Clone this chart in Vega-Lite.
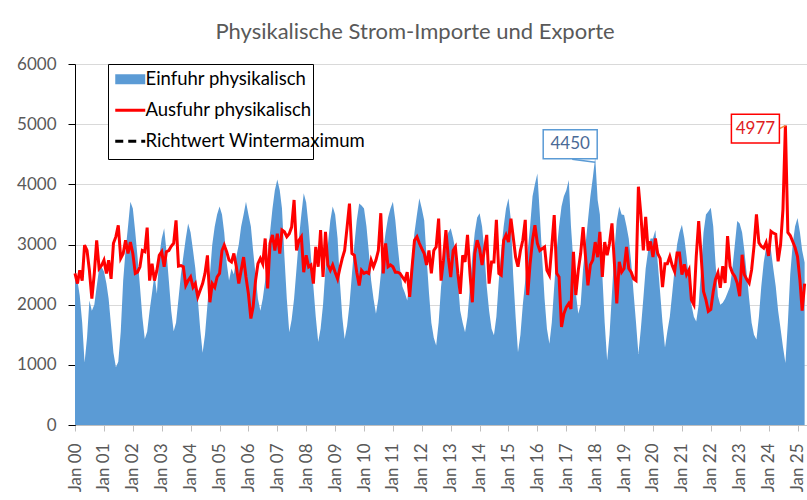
{
  "$schema": "https://vega.github.io/schema/vega-lite/v6.json",
  "autosize": {"type": "none"},
  "width": 732,
  "height": 361,
  "padding": {"left": 75, "top": 64, "right": 0, "bottom": 75},
  "background": "white",
  "config": {"font": "Lato", "view": {"stroke": null}},
  "title": {"text": "Physikalische Strom-Importe und Exporte", "fontSize": 22, "fontWeight": "normal", "color": "#595959", "anchor": "middle", "frame": "group", "dx": -26, "offset": 11},
  "datasets": {
    "strom": [
      {"monat":"2000-01","einfuhr":2540,"ausfuhr":2520},{"monat":"2000-02","einfuhr":2400,"ausfuhr":2350},{"monat":"2000-03","einfuhr":2150,"ausfuhr":2570},{"monat":"2000-04","einfuhr":1700,"ausfuhr":2400},{"monat":"2000-05","einfuhr":1040,"ausfuhr":2990},{"monat":"2000-06","einfuhr":1450,"ausfuhr":2900},{"monat":"2000-07","einfuhr":2070,"ausfuhr":2570},{"monat":"2000-08","einfuhr":1900,"ausfuhr":2100},{"monat":"2000-09","einfuhr":2000,"ausfuhr":2520},{"monat":"2000-10","einfuhr":2300,"ausfuhr":3070},{"monat":"2000-11","einfuhr":2600,"ausfuhr":2600},{"monat":"2000-12","einfuhr":2630,"ausfuhr":2650},
      {"monat":"2001-01","einfuhr":2550,"ausfuhr":2740},{"monat":"2001-02","einfuhr":2350,"ausfuhr":2520},{"monat":"2001-03","einfuhr":2100,"ausfuhr":2740},{"monat":"2001-04","einfuhr":1650,"ausfuhr":2430},{"monat":"2001-05","einfuhr":1200,"ausfuhr":3020},{"monat":"2001-06","einfuhr":960,"ausfuhr":3130},{"monat":"2001-07","einfuhr":1050,"ausfuhr":3320},{"monat":"2001-08","einfuhr":1550,"ausfuhr":2770},{"monat":"2001-09","einfuhr":2400,"ausfuhr":2850},{"monat":"2001-10","einfuhr":2900,"ausfuhr":3070},{"monat":"2001-11","einfuhr":3300,"ausfuhr":2850},{"monat":"2001-12","einfuhr":3710,"ausfuhr":3040},
      {"monat":"2002-01","einfuhr":3600,"ausfuhr":2850},{"monat":"2002-02","einfuhr":3200,"ausfuhr":2520},{"monat":"2002-03","einfuhr":2800,"ausfuhr":2540},{"monat":"2002-04","einfuhr":2300,"ausfuhr":2630},{"monat":"2002-05","einfuhr":1800,"ausfuhr":2900},{"monat":"2002-06","einfuhr":1430,"ausfuhr":2880},{"monat":"2002-07","einfuhr":1550,"ausfuhr":3280},{"monat":"2002-08","einfuhr":1900,"ausfuhr":2400},{"monat":"2002-09","einfuhr":2200,"ausfuhr":2680},{"monat":"2002-10","einfuhr":2500,"ausfuhr":2400},{"monat":"2002-11","einfuhr":2180,"ausfuhr":2570},{"monat":"2002-12","einfuhr":2800,"ausfuhr":2820},
      {"monat":"2003-01","einfuhr":3100,"ausfuhr":2880},{"monat":"2003-02","einfuhr":3270,"ausfuhr":2630},{"monat":"2003-03","einfuhr":2900,"ausfuhr":2880},{"monat":"2003-04","einfuhr":2400,"ausfuhr":2900},{"monat":"2003-05","einfuhr":1900,"ausfuhr":2970},{"monat":"2003-06","einfuhr":1560,"ausfuhr":3020},{"monat":"2003-07","einfuhr":1700,"ausfuhr":3400},{"monat":"2003-08","einfuhr":2100,"ausfuhr":2640},{"monat":"2003-09","einfuhr":2500,"ausfuhr":2650},{"monat":"2003-10","einfuhr":2800,"ausfuhr":2630},{"monat":"2003-11","einfuhr":3100,"ausfuhr":2320},{"monat":"2003-12","einfuhr":3350,"ausfuhr":2400},
      {"monat":"2004-01","einfuhr":3200,"ausfuhr":2460},{"monat":"2004-02","einfuhr":2900,"ausfuhr":2290},{"monat":"2004-03","einfuhr":2600,"ausfuhr":2350},{"monat":"2004-04","einfuhr":2100,"ausfuhr":2130},{"monat":"2004-05","einfuhr":1600,"ausfuhr":2240},{"monat":"2004-06","einfuhr":1200,"ausfuhr":2350},{"monat":"2004-07","einfuhr":1500,"ausfuhr":2520},{"monat":"2004-08","einfuhr":2000,"ausfuhr":2820},{"monat":"2004-09","einfuhr":2500,"ausfuhr":2040},{"monat":"2004-10","einfuhr":3000,"ausfuhr":2350},{"monat":"2004-11","einfuhr":3300,"ausfuhr":2290},{"monat":"2004-12","einfuhr":3500,"ausfuhr":2460},
      {"monat":"2005-01","einfuhr":3630,"ausfuhr":2520},{"monat":"2005-02","einfuhr":3500,"ausfuhr":2900},{"monat":"2005-03","einfuhr":3200,"ausfuhr":2990},{"monat":"2005-04","einfuhr":2700,"ausfuhr":2880},{"monat":"2005-05","einfuhr":2400,"ausfuhr":2740},{"monat":"2005-06","einfuhr":2600,"ausfuhr":2710},{"monat":"2005-07","einfuhr":2500,"ausfuhr":2850},{"monat":"2005-08","einfuhr":2800,"ausfuhr":2630},{"monat":"2005-09","einfuhr":3000,"ausfuhr":2350},{"monat":"2005-10","einfuhr":3300,"ausfuhr":2570},{"monat":"2005-11","einfuhr":3500,"ausfuhr":2790},{"monat":"2005-12","einfuhr":3710,"ausfuhr":2460},
      {"monat":"2006-01","einfuhr":3500,"ausfuhr":2180},{"monat":"2006-02","einfuhr":3300,"ausfuhr":1770},{"monat":"2006-03","einfuhr":2900,"ausfuhr":1960},{"monat":"2006-04","einfuhr":2500,"ausfuhr":2400},{"monat":"2006-05","einfuhr":2100,"ausfuhr":2680},{"monat":"2006-06","einfuhr":1900,"ausfuhr":2770},{"monat":"2006-07","einfuhr":2100,"ausfuhr":2680},{"monat":"2006-08","einfuhr":2400,"ausfuhr":3100},{"monat":"2006-09","einfuhr":2800,"ausfuhr":2270},{"monat":"2006-10","einfuhr":3200,"ausfuhr":3020},{"monat":"2006-11","einfuhr":3600,"ausfuhr":3160},{"monat":"2006-12","einfuhr":3900,"ausfuhr":2900},
      {"monat":"2007-01","einfuhr":4080,"ausfuhr":3180},{"monat":"2007-02","einfuhr":3900,"ausfuhr":2850},{"monat":"2007-03","einfuhr":3600,"ausfuhr":3240},{"monat":"2007-04","einfuhr":2800,"ausfuhr":3210},{"monat":"2007-05","einfuhr":2100,"ausfuhr":3130},{"monat":"2007-06","einfuhr":1540,"ausfuhr":3180},{"monat":"2007-07","einfuhr":1750,"ausfuhr":3290},{"monat":"2007-08","einfuhr":2100,"ausfuhr":3740},{"monat":"2007-09","einfuhr":2600,"ausfuhr":2900},{"monat":"2007-10","einfuhr":3100,"ausfuhr":3070},{"monat":"2007-11","einfuhr":3500,"ausfuhr":3130},{"monat":"2007-12","einfuhr":3850,"ausfuhr":2540},
      {"monat":"2008-01","einfuhr":3700,"ausfuhr":2820},{"monat":"2008-02","einfuhr":3300,"ausfuhr":2630},{"monat":"2008-03","einfuhr":2800,"ausfuhr":2660},{"monat":"2008-04","einfuhr":2300,"ausfuhr":2350},{"monat":"2008-05","einfuhr":1800,"ausfuhr":2960},{"monat":"2008-06","einfuhr":1380,"ausfuhr":2630},{"monat":"2008-07","einfuhr":1600,"ausfuhr":3240},{"monat":"2008-08","einfuhr":2000,"ausfuhr":2460},{"monat":"2008-09","einfuhr":2600,"ausfuhr":3210},{"monat":"2008-10","einfuhr":3000,"ausfuhr":2660},{"monat":"2008-11","einfuhr":3400,"ausfuhr":2570},{"monat":"2008-12","einfuhr":3630,"ausfuhr":2660},
      {"monat":"2009-01","einfuhr":3500,"ausfuhr":2540},{"monat":"2009-02","einfuhr":3100,"ausfuhr":2430},{"monat":"2009-03","einfuhr":2400,"ausfuhr":2600},{"monat":"2009-04","einfuhr":1800,"ausfuhr":2770},{"monat":"2009-05","einfuhr":1430,"ausfuhr":2900},{"monat":"2009-06","einfuhr":1650,"ausfuhr":3290},{"monat":"2009-07","einfuhr":2000,"ausfuhr":3680},{"monat":"2009-08","einfuhr":2500,"ausfuhr":2850},{"monat":"2009-09","einfuhr":3000,"ausfuhr":2820},{"monat":"2009-10","einfuhr":3400,"ausfuhr":2540},{"monat":"2009-11","einfuhr":3680,"ausfuhr":2320},{"monat":"2009-12","einfuhr":3650,"ausfuhr":2570},
      {"monat":"2010-01","einfuhr":3600,"ausfuhr":2520},{"monat":"2010-02","einfuhr":3300,"ausfuhr":2540},{"monat":"2010-03","einfuhr":2900,"ausfuhr":2520},{"monat":"2010-04","einfuhr":2400,"ausfuhr":2740},{"monat":"2010-05","einfuhr":2100,"ausfuhr":2630},{"monat":"2010-06","einfuhr":1850,"ausfuhr":2740},{"monat":"2010-07","einfuhr":2100,"ausfuhr":2900},{"monat":"2010-08","einfuhr":2500,"ausfuhr":3520},{"monat":"2010-09","einfuhr":2900,"ausfuhr":2520},{"monat":"2010-10","einfuhr":3200,"ausfuhr":3020},{"monat":"2010-11","einfuhr":3450,"ausfuhr":2630},{"monat":"2010-12","einfuhr":3600,"ausfuhr":2660},
      {"monat":"2011-01","einfuhr":3710,"ausfuhr":2630},{"monat":"2011-02","einfuhr":3400,"ausfuhr":2540},{"monat":"2011-03","einfuhr":3000,"ausfuhr":2540},{"monat":"2011-04","einfuhr":2600,"ausfuhr":2520},{"monat":"2011-05","einfuhr":2300,"ausfuhr":2460},{"monat":"2011-06","einfuhr":2200,"ausfuhr":2400},{"monat":"2011-07","einfuhr":2070,"ausfuhr":2540},{"monat":"2011-08","einfuhr":2400,"ausfuhr":2130},{"monat":"2011-09","einfuhr":2800,"ausfuhr":2630},{"monat":"2011-10","einfuhr":3200,"ausfuhr":3070},{"monat":"2011-11","einfuhr":3500,"ausfuhr":3130},{"monat":"2011-12","einfuhr":3770,"ausfuhr":3020},
      {"monat":"2012-01","einfuhr":3600,"ausfuhr":2930},{"monat":"2012-02","einfuhr":3400,"ausfuhr":2850},{"monat":"2012-03","einfuhr":2800,"ausfuhr":2660},{"monat":"2012-04","einfuhr":2200,"ausfuhr":2900},{"monat":"2012-05","einfuhr":1700,"ausfuhr":2520},{"monat":"2012-06","einfuhr":1450,"ausfuhr":2900},{"monat":"2012-07","einfuhr":1320,"ausfuhr":2960},{"monat":"2012-08","einfuhr":1700,"ausfuhr":3430},{"monat":"2012-09","einfuhr":2300,"ausfuhr":2400},{"monat":"2012-10","einfuhr":2700,"ausfuhr":2740},{"monat":"2012-11","einfuhr":3000,"ausfuhr":3240},{"monat":"2012-12","einfuhr":3200,"ausfuhr":2790},
      {"monat":"2013-01","einfuhr":3270,"ausfuhr":2460},{"monat":"2013-02","einfuhr":3100,"ausfuhr":2900},{"monat":"2013-03","einfuhr":2900,"ausfuhr":2960},{"monat":"2013-04","einfuhr":2400,"ausfuhr":2520},{"monat":"2013-05","einfuhr":1900,"ausfuhr":2180},{"monat":"2013-06","einfuhr":1700,"ausfuhr":2820},{"monat":"2013-07","einfuhr":1540,"ausfuhr":2710},{"monat":"2013-08","einfuhr":1800,"ausfuhr":3160},{"monat":"2013-09","einfuhr":2300,"ausfuhr":2520},{"monat":"2013-10","einfuhr":2800,"ausfuhr":2040},{"monat":"2013-11","einfuhr":3200,"ausfuhr":2850},{"monat":"2013-12","einfuhr":3450,"ausfuhr":3070},
      {"monat":"2014-01","einfuhr":3520,"ausfuhr":2930},{"monat":"2014-02","einfuhr":3300,"ausfuhr":2660},{"monat":"2014-03","einfuhr":2900,"ausfuhr":2900},{"monat":"2014-04","einfuhr":2300,"ausfuhr":3160},{"monat":"2014-05","einfuhr":1900,"ausfuhr":2350},{"monat":"2014-06","einfuhr":1600,"ausfuhr":2710},{"monat":"2014-07","einfuhr":1490,"ausfuhr":2710},{"monat":"2014-08","einfuhr":1800,"ausfuhr":3410},{"monat":"2014-09","einfuhr":2400,"ausfuhr":2520},{"monat":"2014-10","einfuhr":2900,"ausfuhr":2490},{"monat":"2014-11","einfuhr":3300,"ausfuhr":3070},{"monat":"2014-12","einfuhr":3600,"ausfuhr":3160},
      {"monat":"2015-01","einfuhr":3770,"ausfuhr":3040},{"monat":"2015-02","einfuhr":3400,"ausfuhr":3430},{"monat":"2015-03","einfuhr":2500,"ausfuhr":3130},{"monat":"2015-04","einfuhr":1800,"ausfuhr":2790},{"monat":"2015-05","einfuhr":1210,"ausfuhr":2630},{"monat":"2015-06","einfuhr":1500,"ausfuhr":2900},{"monat":"2015-07","einfuhr":2000,"ausfuhr":3070},{"monat":"2015-08","einfuhr":2400,"ausfuhr":3410},{"monat":"2015-09","einfuhr":2900,"ausfuhr":2160},{"monat":"2015-10","einfuhr":3300,"ausfuhr":2680},{"monat":"2015-11","einfuhr":3800,"ausfuhr":3070},{"monat":"2015-12","einfuhr":4000,"ausfuhr":3320},
      {"monat":"2016-01","einfuhr":4180,"ausfuhr":3020},{"monat":"2016-02","einfuhr":3500,"ausfuhr":2900},{"monat":"2016-03","einfuhr":2800,"ausfuhr":2930},{"monat":"2016-04","einfuhr":2100,"ausfuhr":2960},{"monat":"2016-05","einfuhr":1600,"ausfuhr":2570},{"monat":"2016-06","einfuhr":1350,"ausfuhr":2490},{"monat":"2016-07","einfuhr":1700,"ausfuhr":2960},{"monat":"2016-08","einfuhr":2300,"ausfuhr":3490},{"monat":"2016-09","einfuhr":2900,"ausfuhr":2520},{"monat":"2016-10","einfuhr":3300,"ausfuhr":2460},{"monat":"2016-11","einfuhr":3630,"ausfuhr":1630},{"monat":"2016-12","einfuhr":3800,"ausfuhr":1850},
      {"monat":"2017-01","einfuhr":3900,"ausfuhr":1960},{"monat":"2017-02","einfuhr":4070,"ausfuhr":2020},{"monat":"2017-03","einfuhr":3300,"ausfuhr":1930},{"monat":"2017-04","einfuhr":2700,"ausfuhr":2880},{"monat":"2017-05","einfuhr":2200,"ausfuhr":2160},{"monat":"2017-06","einfuhr":1850,"ausfuhr":2570},{"monat":"2017-07","einfuhr":2000,"ausfuhr":2850},{"monat":"2017-08","einfuhr":2600,"ausfuhr":3290},{"monat":"2017-09","einfuhr":3000,"ausfuhr":2790},{"monat":"2017-10","einfuhr":3400,"ausfuhr":2320},{"monat":"2017-11","einfuhr":3800,"ausfuhr":2660},{"monat":"2017-12","einfuhr":4100,"ausfuhr":2740},
      {"monat":"2018-01","einfuhr":4450,"ausfuhr":3040},{"monat":"2018-02","einfuhr":3740,"ausfuhr":2790},{"monat":"2018-03","einfuhr":3500,"ausfuhr":3210},{"monat":"2018-04","einfuhr":2500,"ausfuhr":2460},{"monat":"2018-05","einfuhr":1700,"ausfuhr":3040},{"monat":"2018-06","einfuhr":1070,"ausfuhr":2820},{"monat":"2018-07","einfuhr":1500,"ausfuhr":3020},{"monat":"2018-08","einfuhr":2200,"ausfuhr":3350},{"monat":"2018-09","einfuhr":2900,"ausfuhr":2680},{"monat":"2018-10","einfuhr":3400,"ausfuhr":2020},{"monat":"2018-11","einfuhr":3630,"ausfuhr":2710},{"monat":"2018-12","einfuhr":3500,"ausfuhr":2540},
      {"monat":"2019-01","einfuhr":3490,"ausfuhr":2600},{"monat":"2019-02","einfuhr":3300,"ausfuhr":2960},{"monat":"2019-03","einfuhr":3100,"ausfuhr":2600},{"monat":"2019-04","einfuhr":2700,"ausfuhr":2540},{"monat":"2019-05","einfuhr":2200,"ausfuhr":2430},{"monat":"2019-06","einfuhr":1700,"ausfuhr":2400},{"monat":"2019-07","einfuhr":1180,"ausfuhr":3960},{"monat":"2019-08","einfuhr":1600,"ausfuhr":3500},{"monat":"2019-09","einfuhr":2100,"ausfuhr":2900},{"monat":"2019-10","einfuhr":2600,"ausfuhr":3460},{"monat":"2019-11","einfuhr":2900,"ausfuhr":2900},{"monat":"2019-12","einfuhr":3100,"ausfuhr":3050},
      {"monat":"2020-01","einfuhr":3100,"ausfuhr":2790},{"monat":"2020-02","einfuhr":3240,"ausfuhr":3100},{"monat":"2020-03","einfuhr":2700,"ausfuhr":2850},{"monat":"2020-04","einfuhr":2200,"ausfuhr":2770},{"monat":"2020-05","einfuhr":1700,"ausfuhr":2290},{"monat":"2020-06","einfuhr":1290,"ausfuhr":2680},{"monat":"2020-07","einfuhr":1560,"ausfuhr":2680},{"monat":"2020-08","einfuhr":1800,"ausfuhr":2800},{"monat":"2020-09","einfuhr":2200,"ausfuhr":2650},{"monat":"2020-10","einfuhr":2600,"ausfuhr":2550},{"monat":"2020-11","einfuhr":3000,"ausfuhr":2860},{"monat":"2020-12","einfuhr":3200,"ausfuhr":2860},
      {"monat":"2021-01","einfuhr":3330,"ausfuhr":2500},{"monat":"2021-02","einfuhr":3100,"ausfuhr":2670},{"monat":"2021-03","einfuhr":2800,"ausfuhr":2500},{"monat":"2021-04","einfuhr":2400,"ausfuhr":2580},{"monat":"2021-05","einfuhr":2000,"ausfuhr":2080},{"monat":"2021-06","einfuhr":1800,"ausfuhr":2000},{"monat":"2021-07","einfuhr":1720,"ausfuhr":2800},{"monat":"2021-08","einfuhr":2000,"ausfuhr":3390},{"monat":"2021-09","einfuhr":2600,"ausfuhr":2810},{"monat":"2021-10","einfuhr":3200,"ausfuhr":2220},{"monat":"2021-11","einfuhr":3500,"ausfuhr":2080},{"monat":"2021-12","einfuhr":3550,"ausfuhr":1890},
      {"monat":"2022-01","einfuhr":3610,"ausfuhr":1920},{"monat":"2022-02","einfuhr":3300,"ausfuhr":2220},{"monat":"2022-03","einfuhr":2700,"ausfuhr":2420},{"monat":"2022-04","einfuhr":2140,"ausfuhr":2530},{"monat":"2022-05","einfuhr":2000,"ausfuhr":2280},{"monat":"2022-06","einfuhr":2030,"ausfuhr":2640},{"monat":"2022-07","einfuhr":2100,"ausfuhr":2360},{"monat":"2022-08","einfuhr":2200,"ausfuhr":3140},{"monat":"2022-09","einfuhr":2300,"ausfuhr":2640},{"monat":"2022-10","einfuhr":2600,"ausfuhr":2530},{"monat":"2022-11","einfuhr":3000,"ausfuhr":2470},{"monat":"2022-12","einfuhr":3390,"ausfuhr":2360},
      {"monat":"2023-01","einfuhr":3350,"ausfuhr":2140},{"monat":"2023-02","einfuhr":3200,"ausfuhr":2830},{"monat":"2023-03","einfuhr":2900,"ausfuhr":2500},{"monat":"2023-04","einfuhr":2500,"ausfuhr":2420},{"monat":"2023-05","einfuhr":2100,"ausfuhr":2360},{"monat":"2023-06","einfuhr":1700,"ausfuhr":2580},{"monat":"2023-07","einfuhr":1500,"ausfuhr":2970},{"monat":"2023-08","einfuhr":1420,"ausfuhr":3500},{"monat":"2023-09","einfuhr":1800,"ausfuhr":3030},{"monat":"2023-10","einfuhr":2300,"ausfuhr":2970},{"monat":"2023-11","einfuhr":2700,"ausfuhr":2940},{"monat":"2023-12","einfuhr":2950,"ausfuhr":3030},
      {"monat":"2024-01","einfuhr":3030,"ausfuhr":2810},{"monat":"2024-02","einfuhr":2900,"ausfuhr":3220},{"monat":"2024-03","einfuhr":2600,"ausfuhr":3190},{"monat":"2024-04","einfuhr":2300,"ausfuhr":3170},{"monat":"2024-05","einfuhr":1900,"ausfuhr":2720},{"monat":"2024-06","einfuhr":1600,"ausfuhr":3000},{"monat":"2024-07","einfuhr":1300,"ausfuhr":3580},{"monat":"2024-08","einfuhr":1030,"ausfuhr":4977},{"monat":"2024-09","einfuhr":1700,"ausfuhr":3200},{"monat":"2024-10","einfuhr":2500,"ausfuhr":3150},{"monat":"2024-11","einfuhr":3000,"ausfuhr":3050},{"monat":"2024-12","einfuhr":3300,"ausfuhr":2950},
      {"monat":"2025-01","einfuhr":3440,"ausfuhr":2800},{"monat":"2025-02","einfuhr":3200,"ausfuhr":2400},{"monat":"2025-03","einfuhr":2900,"ausfuhr":1900},{"monat":"2025-04","einfuhr":2700,"ausfuhr":2350}
    ],
    "richtwert": [{"wert": 830}],
    "max_einfuhr": [{"monat": "2018-01", "wert": 4450, "label": "4450"}],
    "max_ausfuhr": [{"monat": "2024-08", "wert": 4977, "label": "4977"}]
  },
  "encoding": {
    "x": {
      "field": "monat", "type": "temporal",
      "scale": {"type": "utc", "domain": [{"year": 2000, "month": 1, "date": 1, "utc": true}, {"year": 2025, "month": 5, "date": 1, "utc": true}]},
      "axis": {"title": null, "format": "Jan %y", "tickCount": {"interval": "year", "step": 1}, "labelAngle": 270, "labelAlign": "right", "labelBaseline": "middle", "labelFontSize": 17, "labelColor": "#595959", "labelPadding": 12, "tickColor": "#bfbfbf", "tickSize": 6, "domainColor": "#bfbfbf", "grid": false, "labelOverlap": false, "labelFlush": false}
    }
  },
  "layer": [
    {
      "data": {"name": "strom"},
      "mark": {"type": "area", "opacity": 1},
      "encoding": {
        "y": {"field": "einfuhr", "type": "quantitative", "scale": {"domain": [0, 6000], "nice": false},
          "axis": {"title": null, "format": "d", "values": [0, 1000, 2000, 3000, 4000, 5000, 6000], "labelFontSize": 17, "labelColor": "#595959", "labelPadding": 12, "tickSize": 7, "tickColor": "#000000", "domainColor": "#000000", "domainWidth": 1, "gridColor": "#d9d9d9", "grid": true}},
        "fill": {"datum": "Einfuhr physikalisch", "type": "nominal",
          "scale": {"domain": ["Einfuhr physikalisch"], "range": ["#5b9bd5"]},
          "legend": {
            "title": "\u2003", "titleOrient": "bottom", "titleColor": "white", "titleFontSize": 18.5, "titleFontWeight": "normal", "titlePadding": 45, "titleAnchor": "start",
            "orient": "none", "legendX": 33, "legendY": 0, "direction": "vertical",
            "fillColor": "white", "strokeColor": "#000000", "padding": 6,
            "labelFontSize": 18.5, "labelColor": "#000000", "labelLimit": 400, "labelOffset": 6,
            "labelExpr": "datum.label + '\u2003\u2003\u2003\u2002'",
            "symbolSize": 100, "symbolOffset": 7, "symbolType": "M-3,-1H3V1H-3Z", "symbolStrokeWidth": 0
          }}
      }
    },
    {
      "data": {"name": "strom"},
      "mark": {"type": "line", "strokeWidth": 3},
      "encoding": {
        "y": {"field": "ausfuhr", "type": "quantitative"},
        "stroke": {"datum": "Ausfuhr physikalisch", "type": "nominal",
          "scale": {"domain": ["Ausfuhr physikalisch"], "range": ["#ff0000"]},
          "legend": {
            "title": null, "orient": "none", "legendX": 33, "legendY": 31, "direction": "vertical",
            "padding": 6,
            "labelFontSize": 18.5, "labelColor": "#000000", "labelLimit": 400, "labelOffset": 6,
            "symbolSize": 100, "symbolOffset": 7, "symbolType": "M-3,0H3", "symbolStrokeWidth": 3
          }}
      }
    },
    {
      "data": {"name": "richtwert"},
      "mark": {"type": "rule", "strokeWidth": 3, "color": "#000000"},
      "encoding": {
        "y": {"field": "wert", "type": "quantitative"},
        "strokeDash": {"datum": "Richtwert Wintermaximum", "type": "nominal",
          "scale": {"domain": ["Richtwert Wintermaximum"], "range": [[8, 5]]},
          "legend": {
            "title": null, "orient": "none", "legendX": 33, "legendY": 62, "direction": "vertical",
            "padding": 6,
            "labelFontSize": 18.5, "labelColor": "#000000", "labelLimit": 400, "labelOffset": 6,
            "symbolSize": 100, "symbolOffset": 7, "symbolType": "M-3,0H3", "symbolStrokeWidth": 3, "symbolStrokeColor": "#000000"
          }}
      }
    },
    {
      "data": {"name": "max_einfuhr"},
      "mark": {"type": "rule", "stroke": "#5b9bd5", "strokeWidth": 1.5, "xOffset": -23, "yOffset": 2, "x2Offset": 0, "y2Offset": 5},
      "encoding": {
        "x2": {"field": "monat"},
        "y": {"field": "wert", "type": "quantitative"},
        "y2": {"field": "wert"}
      }
    },
    {
      "data": {"name": "max_einfuhr"},
      "mark": {"type": "point", "shape": "M-1,-0.537H1V0.537H-1Z", "size": 2916, "filled": true, "fill": "white", "stroke": "#5b9bd5", "strokeWidth": 1.5, "opacity": 1, "xOffset": -25, "yOffset": -13},
      "encoding": {
        "y": {"field": "wert", "type": "quantitative"}
      }
    },
    {
      "data": {"name": "max_einfuhr"},
      "mark": {"type": "text", "fontSize": 17, "color": "#4a6a96", "dx": -25, "dy": -13, "align": "center", "baseline": "middle"},
      "encoding": {
        "y": {"field": "wert", "type": "quantitative"},
        "text": {"field": "label"}
      }
    },
    {
      "data": {"name": "max_ausfuhr"},
      "mark": {"type": "rule", "stroke": "#f08c3c", "strokeWidth": 1.5, "xOffset": -6, "yOffset": 3, "x2Offset": 0, "y2Offset": 0},
      "encoding": {
        "x2": {"field": "monat"},
        "y": {"field": "wert", "type": "quantitative"},
        "y2": {"field": "wert"}
      }
    },
    {
      "data": {"name": "max_ausfuhr"},
      "mark": {"type": "point", "shape": "M-1,-0.6H1V0.6H-1Z", "size": 2304, "filled": true, "fill": "white", "stroke": "#ff0000", "strokeWidth": 1.5, "opacity": 1, "xOffset": -30, "yOffset": 3},
      "encoding": {
        "y": {"field": "wert", "type": "quantitative"}
      }
    },
    {
      "data": {"name": "max_ausfuhr"},
      "mark": {"type": "text", "fontSize": 17, "color": "#e0201d", "dx": -30, "dy": 3, "align": "center", "baseline": "middle"},
      "encoding": {
        "y": {"field": "wert", "type": "quantitative"},
        "text": {"field": "label"}
      }
    }
  ]
}
